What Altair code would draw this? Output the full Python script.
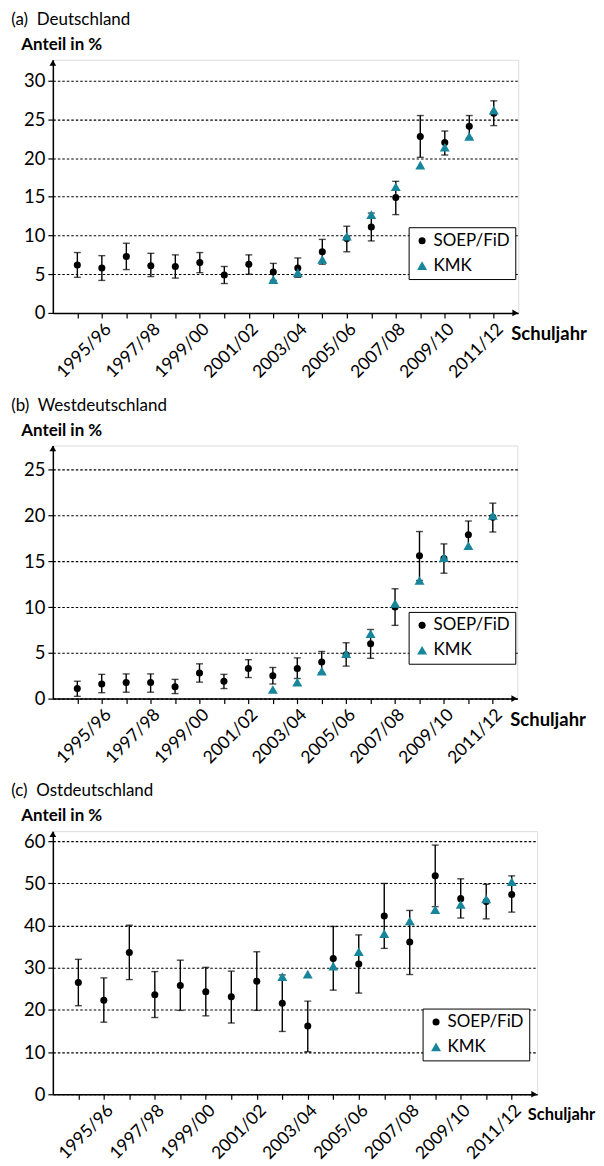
import altair as alt
import pandas as pd

FONT = "Lato"
TEAL = "#17869b"

years = ["1994/95", "1995/96", "1996/97", "1997/98", "1998/99", "1999/00",
         "2000/01", "2001/02", "2002/03", "2003/04", "2004/05", "2005/06",
         "2006/07", "2007/08", "2008/09", "2009/10", "2010/11", "2011/12"]

# (a) Deutschland
de_soep = [6.2, 5.8, 7.3, 6.1, 6.0, 6.5, 4.9, 6.3, 5.3, 5.8, 7.9, 9.6, 11.1, 14.9, 22.8, 22.0, 24.1, 25.8]
de_lo = [4.6, 4.2, 5.6, 4.7, 4.5, 5.2, 3.8, 5.0, 4.2, 4.6, 6.3, 7.9, 9.3, 12.7, 20.1, 20.4, 22.6, 24.2]
de_hi = [7.8, 7.4, 9.0, 7.7, 7.5, 7.8, 6.0, 7.5, 6.4, 7.1, 9.5, 11.2, 12.9, 17.0, 25.5, 23.5, 25.5, 27.4]
de_kmk = [None, None, None, None, None, None, None, None, 4.3, 5.2, 6.9, 9.9, 12.7, 16.3, 19.1, 21.4, 22.8, 26.2]

# (b) Westdeutschland
west_soep = [1.1, 1.6, 1.75, 1.75, 1.3, 2.8, 1.9, 3.3, 2.5, 3.3, 4.0, 4.8, 6.0, 10.0, 15.6, 15.3, 17.9, 19.8]
west_lo = [0.25, 0.65, 0.7, 0.7, 0.55, 1.8, 1.1, 2.3, 1.6, 2.2, 2.85, 3.55, 4.4, 8.0, 12.9, 13.7, 16.4, 18.2]
west_hi = [1.9, 2.65, 2.7, 2.7, 2.1, 3.8, 2.65, 4.25, 3.4, 4.45, 5.15, 6.1, 7.55, 12.0, 18.25, 16.9, 19.4, 21.35]
west_kmk = [None, None, None, None, None, None, None, None, 1.0, 1.8, 3.0, 4.9, 7.1, 10.4, 12.9, 15.4, 16.7, 20.0]

# (c) Ostdeutschland
ost_soep = [26.5, 22.3, 33.6, 23.6, 25.8, 24.3, 23.1, 26.8, 21.6, 16.2, 32.2, 30.9, 42.3, 36.1, 51.8, 46.4, 45.7, 47.4]
ost_lo = [21.0, 17.1, 27.2, 18.2, 19.9, 18.6, 16.9, 19.9, 14.9, 10.1, 24.7, 24.0, 34.6, 28.4, 44.5, 41.8, 41.6, 43.2]
ost_hi = [32.0, 27.6, 40.1, 29.1, 31.8, 30.1, 29.2, 33.8, 28.3, 22.1, 39.8, 37.8, 50.0, 43.6, 59.1, 51.1, 49.8, 51.8]
ost_kmk = [None, None, None, None, None, None, None, None, 27.9, 28.5, 30.4, 33.8, 38.1, 41.1, 43.8, 45.0, 46.3, 50.4]

series_names = ["SOEP/FiD", "KMK"]
y_title = "Anteil in %"
x_title = "Schuljahr"


def panel(title, soep, lo, hi, kmk, ymax, yticks, width, height, title_dx, legend_xy,
          xt_size, xt_dx):
    df_err = pd.DataFrame({"year": years, "lo": lo, "hi": hi})
    rows = [{"year": y, "value": v, "series": "SOEP/FiD"} for y, v in zip(years, soep)]
    rows += [{"year": y, "value": v, "series": "KMK"} for y, v in zip(years, kmk) if v is not None]
    df_pts = pd.DataFrame(rows)

    x_axis = alt.Axis(
        title=None, grid=False, ticks=True, tickSize=5, tickColor="black", tickWidth=1.2,
        domainColor="black", domainWidth=1.5, labelAngle=315, labelFontSize=17.5,
        labelFont=FONT, labelColor="black", labelPadding=2, labelOverlap=False,
        labelExpr="parseInt(slice(datum.value, 3, 4)) % 2 == 1 ? datum.value : ''",
    )
    y_axis = alt.Axis(
        title=None, values=yticks, grid=True, gridColor="black", gridDash=[2.5, 2],
        gridWidth=1.1, ticks=True, tickSize=5, tickColor="black", tickWidth=1.2,
        domainColor="black", domainWidth=1.5, labelFontSize=18.5, labelFont=FONT,
        labelColor="black", labelPadding=3,
    )
    x = alt.X("year:N", sort=years,
              scale=alt.Scale(type="point", domain=years, padding=1), axis=x_axis)
    yscale = alt.Scale(domain=[0, ymax], nice=False, zero=True)

    err = alt.Chart(df_err).mark_rule(color="black", strokeWidth=1.4).encode(
        x=x, y=alt.Y("lo:Q", scale=yscale, axis=y_axis), y2="hi:Q")
    cap_lo = alt.Chart(df_err).mark_tick(color="black", size=7, thickness=1.4).encode(
        x=x, y=alt.Y("lo:Q", scale=yscale, axis=y_axis))
    cap_hi = alt.Chart(df_err).mark_tick(color="black", size=7, thickness=1.4).encode(
        x=x, y=alt.Y("hi:Q", scale=yscale, axis=y_axis))

    leg = dict(orient="none", legendX=legend_xy[0], legendY=legend_xy[1], title=None,
               strokeColor="black", fillColor="white", padding=5, labelFontSize=17,
               labelFont=FONT, labelColor="black", symbolSize=75, rowPadding=7,
               labelOffset=3, cornerRadius=0)
    pts = alt.Chart(df_pts).mark_point(filled=True, opacity=1).encode(
        x=x,
        y=alt.Y("value:Q", scale=yscale, axis=y_axis),
        color=alt.Color("series:N", scale=alt.Scale(domain=series_names, range=["black", TEAL]),
                        legend=alt.Legend(**leg)),
        shape=alt.Shape("series:N", scale=alt.Scale(domain=series_names, range=["circle", "triangle-up"]),
                        legend=alt.Legend(**leg)),
        size=alt.Size("series:N", scale=alt.Scale(domain=series_names, range=[50, 100]), legend=None),
    )

    up_arrow = alt.Chart(pd.DataFrame({"a": [0]})).mark_point(
        shape="triangle-up", filled=True, color="black", size=45, opacity=1).encode(
        x=alt.value(0), y=alt.value(3))
    right_arrow = alt.Chart(pd.DataFrame({"a": [0]})).mark_point(
        shape="triangle-right", filled=True, color="black", size=45, opacity=1).encode(
        x=alt.value(width - 3), y=alt.value(height))

    t_title = alt.Chart(pd.DataFrame({"t": [title]})).mark_text(
        align="left", baseline="middle", font=FONT, fontSize=17, color="black").encode(
        text="t:N", x=alt.value(title_dx), y=alt.value(-40))
    t_y = alt.Chart(pd.DataFrame({"t": [y_title]})).mark_text(
        align="left", baseline="middle", font=FONT, fontSize=17, fontWeight="bold", color="black").encode(
        text="t:N", x=alt.value(title_dx + 10), y=alt.value(-15))
    t_x = alt.Chart(pd.DataFrame({"t": [x_title]})).mark_text(
        align="left", baseline="middle", font=FONT, fontSize=xt_size, fontWeight="bold", color="black").encode(
        text="t:N", x=alt.value(width + xt_dx), y=alt.value(height + 21))

    return alt.layer(err, cap_lo, cap_hi, pts, up_arrow, right_arrow, t_title, t_y, t_x).properties(
        width=width, height=height)


pa = panel("(a)\u00a0 Deutschland", de_soep, de_lo, de_hi, de_kmk, 32.7,
           [0, 5, 10, 15, 20, 25, 30], 467, 254, -41.7, (357, 168), 18.5, -7)
pb = panel("(b)\u00a0 Westdeutschland", west_soep, west_lo, west_hi, west_kmk, 27.65,
           [0, 5, 10, 15, 20, 25], 466, 254, -41.7, (357, 167), 18.5, -7)
pc = panel("(c)\u00a0 Ostdeutschland", ost_soep, ost_lo, ost_hi, ost_kmk, 62.4,
           [0, 10, 20, 30, 40, 50, 60], 486, 264, -41.7, (371, 178), 16.5, -9.5)

chart = alt.vconcat(pa, pb, pc, spacing=133, bounds="flush").resolve_scale(
    x="independent", y="independent", color="independent", shape="independent", size="independent"
).properties(
    padding={"left": 2, "top": 0, "right": 0, "bottom": 0}
).configure_view(stroke=None).configure(font=FONT)

chart.save("out.html", embed_options={"renderer": "svg", "actions": False})
